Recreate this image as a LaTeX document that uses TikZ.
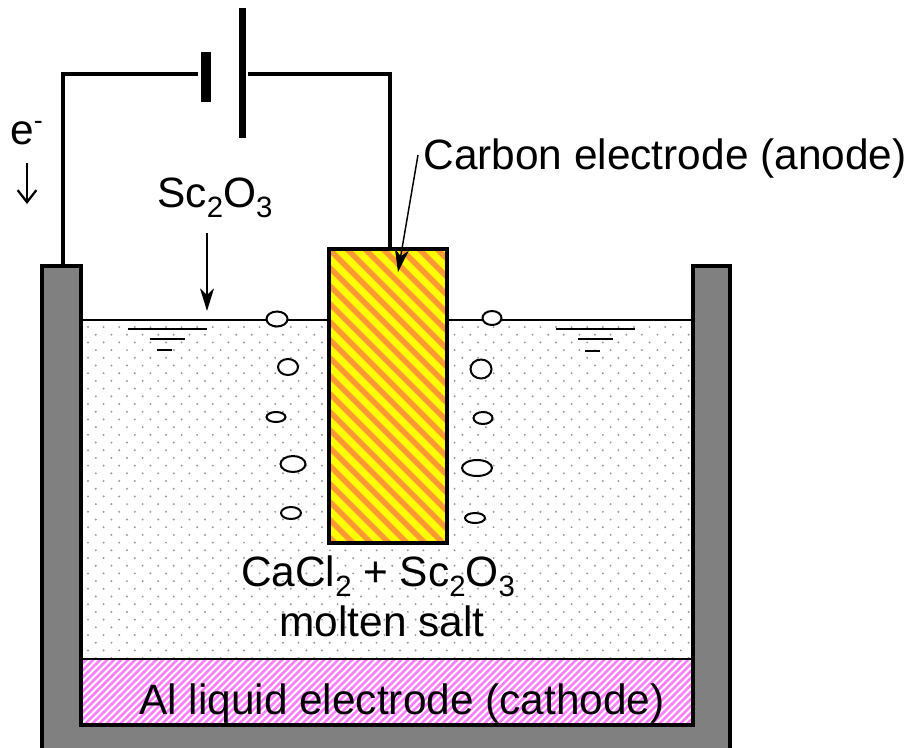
\documentclass[tikz,border=0pt]{standalone}
\usepackage{fontspec}
\setmainfont{Liberation Sans}
\definecolor{wallgray}{HTML}{808080}
\definecolor{stripeorange}{HTML}{FF9933}
\definecolor{stripeyellow}{HTML}{FFFF00}
\definecolor{stripepink}{HTML}{FF80FF}
\usetikzlibrary{arrows.meta,shapes.geometric}
\newcommand{\lowidx}[1]{\raisebox{-8pt}{\fontsize{22}{22}\selectfont #1}}
\newcommand{\highidx}[1]{\raisebox{11pt}{\fontsize{20}{20}\selectfont #1}}
\tikzset{
    wire/.style={line width=2.8pt},
    outline/.style={line width=3pt, line join=miter},
    level/.style={line width=1.3pt},
    label/.style={font=\fontsize{31.8}{34}\selectfont, inner sep=0pt, anchor=base},
    pointer/.style={line width=1.1pt, -{Stealth[length=17pt,width=10.5pt,inset=5pt]}},
    bubble/.style={draw, line width=1.5pt, fill=white},
}
\begin{document}
\begin{tikzpicture}[x=0.75pt,y=-0.75pt]
        \useasboundingbox (0,0) rectangle (910,747);
        \clip (0,0) rectangle (910,747);

        \foreach \r in {0,...,43} {
            \foreach \c in {0,...,39} {
                \fill[gray!80] ({88+\c*15.6+mod(\r,2)*7.8},{327+\r*7.7}) circle (1.1);
            }
        }
        \draw[line width=1.5pt] (81,320) -- (329,320);
        \draw[line width=1.5pt] (447,320) -- (693,320);

        \fill[white] (81,659) rectangle (693,725);
        \begin{scope}
            \clip (81,659) rectangle (693,725);
            \foreach \i in {0,...,110} {
                \draw[stripepink, line width=2pt] ({\i*7},725) -- ++(80,-80);
            }
        \end{scope}
        \draw[line width=1.5pt] (81,659) -- (693,659);

        \fill[wallgray] (42,266) -- (81,266) -- (81,725) -- (693,725) -- (693,266) -- (730,266) -- (730,760) -- (42,760) -- cycle;
        \draw[outline] (42,760) -- (42,266) -- (81,266) -- (81,725) -- (693,725) -- (693,266) -- (730,266) -- (730,760);

        \fill[stripeyellow] (329,249) rectangle (447,543);
        \begin{scope}
            \clip (329,249) rectangle (447,543);
            \foreach \i in {-18,...,7} {
                \draw[stripeorange, line width=4.2pt] ({329+\i*18},249) -- ++(300,300);
            }
        \end{scope}
        \draw[outline] (329,249) rectangle (447,543);

        \coordinate (wireleft) at (63,266);
        \coordinate (wireright) at (390,249);
        \draw[wire] (wireleft) -- (63,74) -- (198,74);
        \draw[wire] (248,74) -- (390,74) -- (wireright);
        \draw[line width=8pt] (206,52) -- (206,102);
        \draw[line width=5pt] (242.5,8) -- (242.5,138);

        \foreach \x/\y/\a/\b in {277/319/10.5/7.5, 288/367/10/8, 276/417/9.5/5, 293/464/12.5/8, 291/513/10/6, 492/318/9.5/7, 481/369/10.5/9.5, 483/418/9.5/6, 477/468/15/8, 475/518/10/5} {
            \draw[bubble] (\x,\y) ellipse ({\a} and {\b});
        }

        \draw[level] (128,329) -- (207,329);
        \draw[level] (150,339) -- (185,339);
        \draw[level] (157,350) -- (172,350);
        \draw[level] (556,329) -- (635,329);
        \draw[level] (578,339) -- (613,339);
        \draw[level] (585,351) -- (600,351);

        \node[label] (carbon) at (665,169) {Carbon electrode (anode)};
        \node[label] (source) at (215,207) {Sc\lowidx{2}O\lowidx{3}};
        \node[label] (electron) at (26.5,144) {e\highidx{-}};
        \node[label] (salt) at (378,586) {CaCl\lowidx{2} + Sc\lowidx{2}O\lowidx{3}};
        \node[label] (molten) at (382,636) {molten salt};
        \node[label] (cathode) at (402,714) {Al liquid electrode (cathode)};

        \coordinate (carbontip) at (398,272);
        \coordinate (sourcetip) at (207,311);
        \coordinate (electrontip) at (27,204);
        \draw[pointer] (418,155) -- (carbontip);
        \draw[pointer] (207,233) -- (sourcetip);
        \draw[line width=1.7pt, -{Straight Barb[length=9pt,width=14pt]}] (27,163) -- (electrontip);
    \end{tikzpicture}
\end{document}
